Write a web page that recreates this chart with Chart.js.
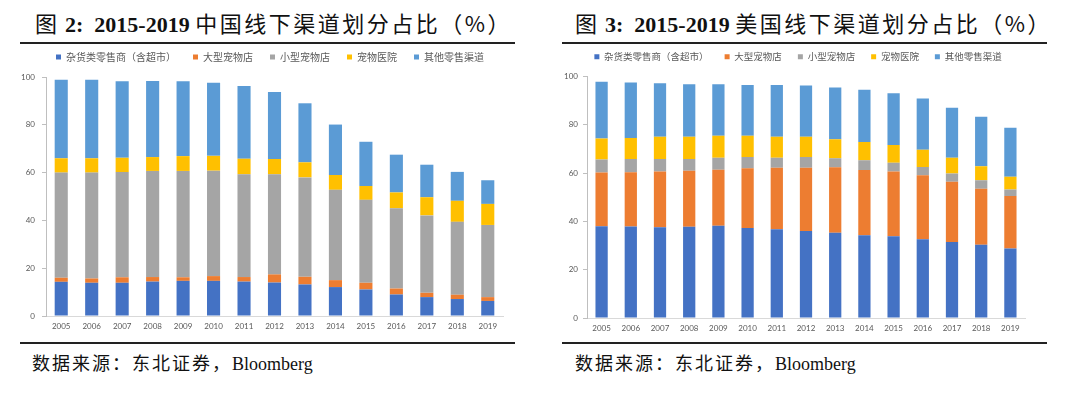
<!DOCTYPE html>
<html>
<head>
<meta charset="utf-8">
<script src="https://cdn.jsdelivr.net/npm/chart.js@4/dist/chart.umd.min.js"></script>
<style>
  html, body { margin: 0; padding: 0; background: #fff; }
  body { width: 1080px; height: 396px; position: relative; overflow: hidden; }
  .title {
    position: absolute; top: 8px; height: 28px; line-height: 28px;
    font-family: "Liberation Serif", "Noto Sans CJK SC", serif;
    font-size: 22px; color: #111; white-space: nowrap;
  }
  .title b { font-weight: bold; }
  .title .cn { font-family: "Noto Sans CJK SC", sans-serif; letter-spacing: 2.5px; font-size: 22px; }
  .rule { position: absolute; height: 2px; background: #222; }
  .source {
    position: absolute; top: 350px; line-height: 24px;
    font-family: "Liberation Serif", "Noto Sans CJK SC", serif;
    font-size: 18px; color: #111; white-space: nowrap;
  }
  .source .cn { font-family: "Noto Sans CJK SC", sans-serif; letter-spacing: 2px; }
  canvas { position: absolute; }
</style>
</head>
<body>
<div class="title" style="left:35px"><span class="cn">图</span> <b>2:</b>&nbsp;&nbsp;<b>2015-2019</b> <span class="cn">中国线下渠道划分占比（%）</span></div>
<div class="title" style="left:575px"><span class="cn">图</span> <b>3:</b>&nbsp;&nbsp;<b>2015-2019</b> <span class="cn">美国线下渠道划分占比（%）</span></div>
<div class="rule" style="left:20px; width:495px; top:42px"></div>
<div class="rule" style="left:562px; width:485px; top:42px"></div>
<div class="rule" style="left:20px; width:495px; top:342px"></div>
<div class="rule" style="left:562px; width:485px; top:342px"></div>
<div class="source" style="left:32px"><span class="cn">数据来源：东北证券，</span>Bloomberg</div>
<div class="source" style="left:575px"><span class="cn">数据来源：东北证券，</span>Bloomberg</div>

<canvas id="cn" width="540" height="310" style="left:0px; top:34px; width:540px; height:310px"></canvas>
<canvas id="us" width="540" height="310" style="left:540px; top:34px; width:540px; height:310px"></canvas>

<script>
const years = ['2005', '2006', '2007', '2008', '2009', '2010', '2011', '2012', '2013', '2014', '2015', '2016', '2017', '2018', '2019'];
const seriesNames = ['杂货类零售商（含超市）', '大型宠物店', '小型宠物店', '宠物医院', '其他零售渠道'];
const seriesColors = ['#4472C4', '#ED7D31', '#A5A5A5', '#FFC000', '#5B9BD5'];
const yTicks = [0, 20, 40, 60, 80, 100];

// 中国
const cnGrocery = [14.3, 13.9, 13.9, 14.4, 14.7, 14.7, 14.4, 14.0, 13.2, 12.1, 11.1, 9.0, 7.9, 7.1, 6.3];
const cnLarge = [1.7, 1.8, 2.3, 1.9, 1.5, 2.0, 1.9, 3.4, 3.2, 2.9, 2.8, 2.5, 1.8, 1.8, 1.6];
const cnSmall = [44.0, 44.3, 44.0, 44.4, 44.5, 44.1, 43.0, 41.9, 41.6, 37.8, 34.7, 33.6, 32.4, 30.5, 30.2];
const cnVet = [6.0, 6.0, 6.0, 5.8, 6.2, 6.2, 6.5, 6.4, 6.3, 6.2, 5.8, 6.6, 7.6, 8.8, 8.8];
const cnOther = [32.9, 32.9, 32.0, 31.8, 31.3, 30.6, 30.4, 28.0, 24.7, 21.1, 18.5, 15.8, 13.6, 12.1, 9.9];

// 美国
const usGrocery = [38.0, 37.9, 37.6, 37.8, 38.2, 37.3, 36.7, 36.0, 35.3, 34.3, 33.9, 32.6, 31.5, 30.3, 28.8];
const usLarge = [22.2, 22.5, 23.1, 23.2, 23.2, 24.7, 25.5, 26.2, 27.1, 27.0, 26.8, 26.5, 24.9, 23.2, 21.7];
const usSmall = [5.4, 5.4, 5.1, 4.8, 5.0, 4.7, 4.2, 4.5, 3.7, 4.0, 3.6, 3.4, 3.4, 3.5, 2.7];
const usVet = [8.7, 8.7, 9.3, 9.3, 9.1, 8.8, 8.7, 8.4, 7.9, 7.6, 7.3, 7.2, 6.6, 5.8, 5.3];
const usOther = [23.5, 23.0, 22.1, 21.7, 21.3, 21.0, 21.4, 21.2, 21.4, 21.6, 21.5, 21.2, 20.7, 20.5, 20.3];

const tickFont = { family: 'Lato, "Liberation Sans", sans-serif', size: 8 };

// push the plot area a little below the legend
const legendGap = {
  id: 'legendGap',
  beforeInit(chart) {
    const fit = chart.legend.fit;
    chart.legend.fit = function () {
      fit.call(this);
      this.height += 5;
    };
  }
};

function buildChart(id, series, cfg) {
  const ctx = document.getElementById(id).getContext('2d');
  return new Chart(ctx, {
    type: 'bar',
    data: {
      labels: years,
      datasets: series.map((values, i) => ({
        label: seriesNames[i],
        data: values,
        backgroundColor: seriesColors[i],
        borderWidth: 0,
        barPercentage: cfg.barPct,
        categoryPercentage: 1.0,
      })),
    },
    options: {
      responsive: false,
      animation: false,
      layout: { padding: cfg.padding },
      plugins: {
        tooltip: { enabled: false },
        legend: {
          position: 'top',
          labels: {
            boxWidth: 5,
            boxHeight: 5,
            padding: cfg.legendPad,
            color: '#595959',
            font: { family: '"Noto Sans CJK SC", sans-serif', size: cfg.legendSize },
          },
        },
      },
      scales: {
        x: {
          stacked: true,
          grid: { display: false, drawTicks: false },
          border: { color: '#d9d9d9' },
          ticks: { color: '#595959', font: tickFont, padding: 6, maxRotation: 0, autoSkip: false },
          afterFit(scale) { scale.height = 20; },
        },
        y: {
          stacked: true,
          min: 0,
          max: 100,
          afterBuildTicks(scale) { scale.ticks = yTicks.map(v => ({ value: v })); },
          grid: { drawOnChartArea: false, drawTicks: true, tickLength: 4, color: '#bfbfbf' },
          border: { color: '#bfbfbf' },
          ticks: { color: '#595959', font: tickFont, padding: cfg.tickPad },
          afterFit(scale) { scale.width = cfg.yWidth; },
        },
        // empty spacer on the right so the legend sits where the original has it
        spacer: {
          position: 'right',
          display: true,
          grid: { display: false },
          border: { display: false },
          ticks: { display: false },
          afterFit(scale) { scale.width = cfg.spacer; },
        },
      },
    },
    plugins: [legendGap],
  });
}

buildChart('cn', [cnGrocery, cnLarge, cnSmall, cnVet, cnOther], {
  barPct: 0.43,
  padding: { left: 0, right: 0, top: 1, bottom: 8 },
  yWidth: 46,
  spacer: 37,
  tickPad: 7,
  legendSize: 10,
  legendPad: 17,
});

buildChart('us', [usGrocery, usLarge, usSmall, usVet, usOther], {
  barPct: 0.42,
  padding: { left: 0, right: 24, top: 2, bottom: 6 },
  yWidth: 47,
  spacer: 31,
  tickPad: 5,
  legendSize: 9.5,
  legendPad: 16,
});
</script>
</body>
</html>
